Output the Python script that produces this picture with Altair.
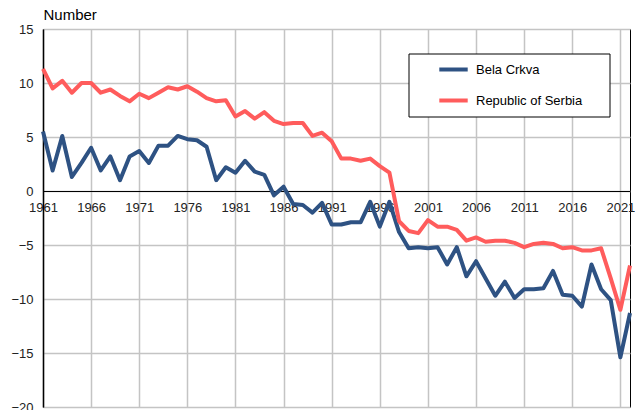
import altair as alt
import pandas as pd

years = list(range(1961, 2023))

bela_crkva = [
    5.5, 1.9, 5.1, 1.3, 2.6, 4.0, 1.9, 3.2, 1.0, 3.2,
    3.7, 2.6, 4.2, 4.2, 5.1, 4.8, 4.7, 4.1, 1.0, 2.2,
    1.7, 2.8, 1.8, 1.5, -0.4, 0.4, -1.2, -1.3, -2.0, -1.1,
    -3.1, -3.1, -2.9, -2.9, -1.0, -3.3, -1.0, -3.8, -5.3, -5.2,
    -5.3, -5.2, -6.8, -5.2, -7.9, -6.5, -8.1, -9.7, -8.4, -9.9,
    -9.1, -9.1, -9.0, -7.4, -9.6, -9.7, -10.7, -6.8, -9.1, -10.1,
    -15.4, -11.3,
]

serbia = [
    11.3, 9.5, 10.2, 9.1, 10.0, 10.0, 9.1, 9.4, 8.8, 8.3,
    9.0, 8.6, 9.1, 9.6, 9.4, 9.7, 9.2, 8.6, 8.3, 8.4,
    6.9, 7.4, 6.7, 7.3, 6.5, 6.2, 6.3, 6.3, 5.1, 5.4,
    4.6, 3.0, 3.0, 2.8, 3.0, 2.3, 1.7, -2.8, -3.7, -3.9,
    -2.7, -3.3, -3.3, -3.6, -4.6, -4.3, -4.7, -4.6, -4.6, -4.8,
    -5.2, -4.9, -4.8, -4.9, -5.3, -5.2, -5.5, -5.5, -5.3, -8.1,
    -11.0, -6.9,
]

series_names = ["Bela Crkva", "Republic of Serbia"]
series_colors = ["#2e5283", "#ff5c5c"]
x_ticks = [1961, 1966, 1971, 1976, 1981, 1986, 1991, 1996, 2001, 2006, 2011, 2016, 2021]
y_ticks = [-20, -15, -10, -5, 0, 5, 10, 15]
title_text = "Natural increase per 1,000 population, 1961- 2022"
y_title = "Number"

FONT = "Liberation Sans"

df = pd.DataFrame({
    "year": years + years,
    "value": bela_crkva + serbia,
    "series": [series_names[0]] * len(years) + [series_names[1]] * len(years),
})

lines = alt.Chart(df).mark_line(strokeWidth=4, strokeJoin="round").encode(
    x=alt.X(
        "year:Q",
        scale=alt.Scale(domain=[1961, 2022], nice=False, zero=False),
        axis=alt.Axis(
            values=x_ticks, format="d", title=None, orient="bottom",
            offset=-216, ticks=False, labelPadding=10, labelFlush=False,
            labelOverlap=False, grid=True, labelFontSize=13,
            labelColor="#222222", domainColor="black", domainWidth=1.2,
        ),
    ),
    y=alt.Y(
        "value:Q",
        scale=alt.Scale(domain=[-20, 15], nice=False, zero=False),
        axis=alt.Axis(
            values=y_ticks, title=y_title, titleAngle=0, titleAlign="left",
            titleBaseline="alphabetic", titleX=0, titleY=-10,
            titleFontSize=15, titleFontWeight="normal", titleColor="black",
            ticks=False, labelPadding=10, labelFontSize=13,
            labelColor="#222222", grid=True, domainColor="black",
            domainWidth=1.5,
        ),
    ),
    color=alt.Color(
        "series:N",
        scale=alt.Scale(domain=series_names, range=series_colors),
        legend=alt.Legend(
            title=None, orient="none", legendX=394, legendY=24,
            symbolType="stroke", symbolSize=807, symbolStrokeWidth=4,
            labelFontSize=13, labelOffset=6, padding=0, rowPadding=6,
            labelColor="black", labelFont=FONT,
        ),
    ),
)

box = alt.Chart(pd.DataFrame({"k": [0]})).mark_rect(
    fill="white", stroke="black", strokeWidth=1
).encode(
    x=alt.value(366), x2=alt.value(567), y=alt.value(25), y2=alt.value(88)
)

title = alt.Chart(pd.DataFrame({"t": [title_text]})).mark_text(
    align="left", baseline="alphabetic", fontSize=16, fontWeight="bold",
    font=FONT, color="black"
).encode(text="t:N", x=alt.value(0), y=alt.value(-25))

chart = alt.layer(box, lines, title).properties(
    width=587,
    height=378,
    padding={"left": 35, "top": 21, "right": 5, "bottom": 6},
    autosize=alt.AutoSizeParams(type="none"),
).configure_view(
    stroke="black", strokeWidth=1
).configure_axis(
    gridColor="#c4c4c4", gridWidth=1.5, labelFont=FONT, titleFont=FONT
)

chart.save("out.html", embed_options={"renderer": "svg", "actions": False})
